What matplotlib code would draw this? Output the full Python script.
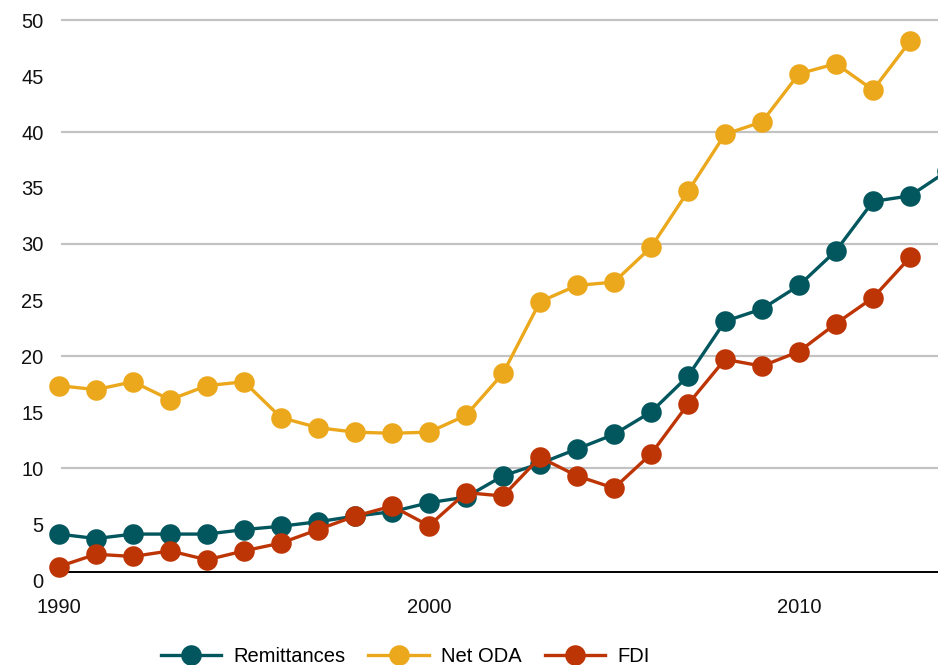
import matplotlib
matplotlib.use("Agg")
import matplotlib.pyplot as plt

# Yearly flows, 1990-2014
years = list(range(1990, 2015))
remittances = [4.1, 3.7, 4.1, 4.1, 4.1, 4.5, 4.8, 5.2, 5.7, 6.1, 6.9, 7.4,
               9.3, 10.4, 11.7, 13.0, 15.0, 18.2, 23.1, 24.2, 26.3, 29.4,
               33.8, 34.3, 36.5]
net_oda = [17.35, 17.0, 17.7, 16.1, 17.35, 17.7, 14.5, 13.6, 13.2, 13.1,
           13.2, 14.7, 18.45, 24.85, 26.3, 26.6, 29.7, 34.7, 39.8, 40.9,
           45.2, 46.1, 43.75, 48.1]
fdi = [1.2, 2.3, 2.1, 2.6, 1.8, 2.6, 3.3, 4.5, 5.7, 6.6, 4.85, 7.8, 7.5,
       10.95, 9.3, 8.2, 11.25, 15.7, 19.7, 19.1, 20.4, 22.9, 25.2, 28.8]

series = [
    ("Remittances", remittances, "#02565e"),
    ("Net ODA", net_oda, "#eca81c"),
    ("FDI", fdi, "#be3505"),
]
y_ticks = list(range(0, 55, 5))
x_ticks = [1990, 2000, 2010]

plt.rcParams["font.family"] = ["Liberation Sans", "DejaVu Sans"]

W, H = 938, 665
fig = plt.figure(figsize=(W / 100, H / 100), dpi=100)
ax = fig.add_axes([59 / W, 85 / H, (W - 59) / W, 560 / H])

for name, vals, col in series:
    ax.plot(years[:len(vals)], vals, color=col, lw=2.4, marker="o",
            markersize=14.8, markeredgewidth=0, label=name, clip_on=False)

ax.set_xlim(1990, 1990 + (W - 59) / 37)
ax.set_ylim(0, 50)
ax.set_yticks(y_ticks)
ax.set_xticks(x_ticks)
ax.tick_params(length=0, labelsize=14.5, colors="#111111")
ax.tick_params(axis="y", pad=11)
ax.tick_params(axis="x", pad=13)

# gridlines only at every 10
for v in range(10, 60, 10):
    ax.axhline(v, xmin=0.003, color="#c3c3c3", lw=1.6, zorder=0, clip_on=False)
ax.axhline(0.7, xmin=0.2 / 23.76, color="black", lw=1.4, zorder=1)

for s in ax.spines.values():
    s.set_visible(False)

fig.legend(loc="center", bbox_to_anchor=(405 / W, 8 / H), ncol=3,
           frameon=False, fontsize=14.5, handlelength=3.0,
           handletextpad=0.6, columnspacing=1.15, borderpad=0)

fig.savefig("out.png", dpi=100)
